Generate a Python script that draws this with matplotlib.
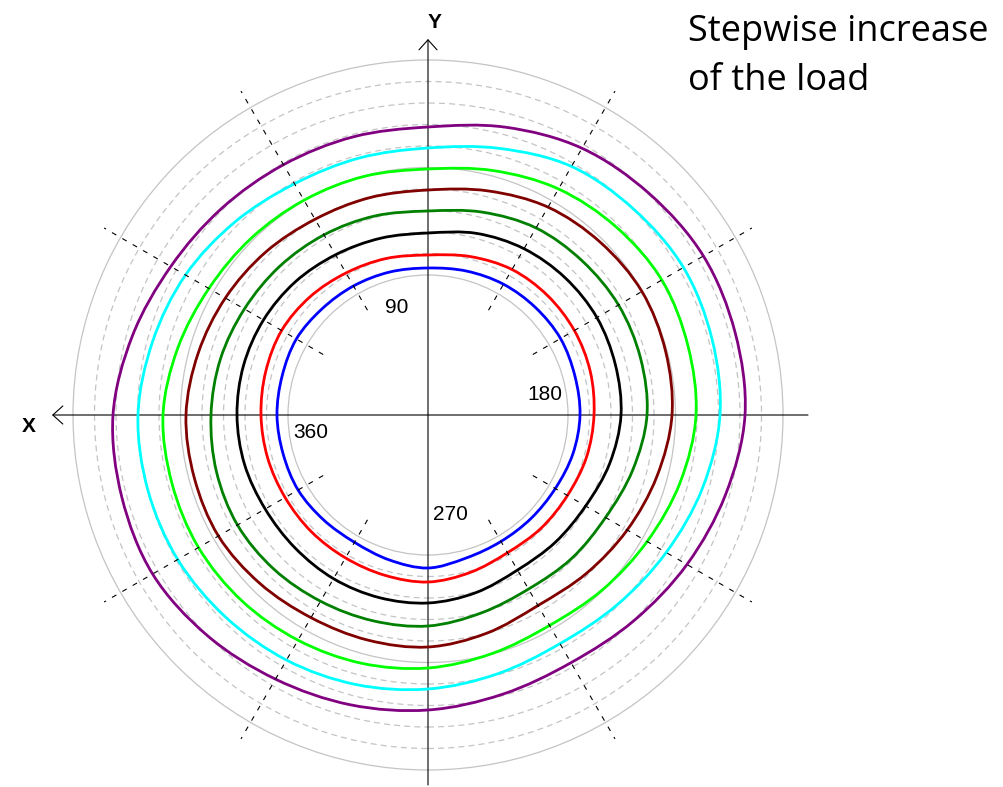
# -*- coding: utf-8 -*-
"""
Polar trace plot of the load steps: one closed trace per load level,
drawn around the X/Y cross with a polar grid of rings and spokes.
"""

# %% Import packages

import numpy as np
import matplotlib.pyplot as plt
from matplotlib.patches import Circle, PathPatch
from matplotlib.path import Path

# %% Data

# Angles of the radius readings (deg, counter-clockwise from the right)
angles = [0, 15, 30, 45, 60, 75, 90, 105, 120, 135, 150, 165,
          180, 195, 210, 225, 240, 255, 270, 285, 300, 315, 330, 345]

# Radius of each load-step trace at those angles
rBlue = [152, 152, 153, 152, 151, 149, 147, 148, 149, 150, 152, 151,
         151, 150, 150, 148, 147, 150, 153, 148, 146, 146, 147, 150]
rRed = [166, 168, 169, 169, 168, 164, 160, 162, 164, 167, 169, 168,
        167, 166, 165, 165, 165, 166, 167, 163, 159, 160, 161, 164]
rBlack = [193, 194, 195, 194, 192, 188, 182, 183, 185, 188, 190, 191,
          191, 190, 188, 188, 189, 189, 188, 184, 179, 180, 182, 188]
rDarkGreen = [219, 220, 220, 218, 216, 210, 204, 206, 208, 210, 212, 215,
              217, 219, 220, 218, 215, 213, 211, 205, 201, 203, 205, 212]
rBrown = [244, 246, 247, 244, 240, 232, 225, 225, 226, 230, 234, 238,
          242, 242, 242, 238, 234, 233, 232, 226, 220, 224, 230, 237]
rGreen = [268, 269, 270, 266, 261, 253, 246, 247, 248, 250, 253, 259,
          265, 265, 265, 263, 260, 257, 253, 247, 243, 247, 253, 261]
rCyan = [292, 294, 295, 291, 287, 276, 267, 266, 267, 273, 280, 285,
         290, 290, 289, 286, 283, 279, 274, 268, 264, 268, 275, 284]
rPurple = [317, 318, 318, 313, 308, 298, 288, 288, 289, 292, 297, 306,
           315, 317, 318, 312, 305, 300, 295, 289, 286, 291, 299, 308]

traces = [rBlue, rRed, rBlack, rDarkGreen, rBrown, rGreen, rCyan, rPurple]
traceColours = ['#0000ff', '#ff0000', '#000000', '#008000',
                '#800000', '#00ff00', '#00ffff', '#800080']

# Polar grid: rings and spoke directions
ringRadii = [140, 161.5, 183, 204.5, 226, 247.5, 269, 290.5, 312, 333.5, 355]
solidRings = [140, 247.5, 355]
spokeAngles = [30, 60, 120, 150, 210, 240, 300, 330]

# Angle labels (text, x, y)
angleLabels = [('90', -31, 107), ('180', 117, 20), ('270', 22, -100), ('360', -117, -18)]

# %% Define functions

#Closed smooth path through the trace points (Catmull-Rom as cubic Beziers)
def closedTracePath(xs, ys):
    pts = np.column_stack([xs, ys])
    n = len(pts)
    verts = [pts[0]]
    codes = [Path.MOVETO]
    for i in range(n):
        p0, p1, p2, p3 = pts[i - 1], pts[i], pts[(i + 1) % n], pts[(i + 2) % n]
        verts += [p1 + (p2 - p0) / 6, p2 - (p3 - p1) / 6, p2]
        codes += [Path.CURVE4] * 3
    return Path(verts, codes)

# %% Figure set-up

plt.rcParams['lines.scale_dashes'] = False

W, H = 1004, 787
cx, cy = 428, 372        # centre of the cross, pixels from bottom-left

fig = plt.figure(figsize=(W / 100, H / 100), dpi=100)
ax = fig.add_axes([0, 0, 1, 1])
ax.set_xlim(-cx, W - cx)
ax.set_ylim(-cy, H - cy)
ax.set_aspect('equal')
ax.axis('off')

# %% Polar grid

for r in ringRadii:
    if r in solidRings:
        ax.add_patch(Circle((0, 0), r, fill=False, ec='#c4c4c4', lw=0.9, zorder=1))
    else:
        ax.add_patch(Circle((0, 0), r, fill=False, ec='#c4c4c4', lw=0.9,
                            ls=(0, (4.3, 3.0)), zorder=1))

for a in spokeAngles:
    t = np.deg2rad(a)
    ax.plot([121 * np.cos(t), 374 * np.cos(t)], [121 * np.sin(t), 374 * np.sin(t)],
            color='black', lw=0.8, ls=(0, (3.6, 5.0)), zorder=4)

# %% Axes cross with arrows

arrowStyle = dict(arrowstyle='->,head_length=0.72,head_width=0.65', lw=0.8,
                  color='black', shrinkA=0, shrinkB=0)
ax.annotate('', xy=(-376, 0), xytext=(380, 0), arrowprops=arrowStyle, zorder=3)
ax.annotate('', xy=(0, 376), xytext=(0, -370), arrowprops=arrowStyle, zorder=3)

ax.text(-399, -12, 'X', fontsize=15, fontweight='bold', family='Liberation Sans',
        ha='center', va='center')
ax.text(7, 393, 'Y', fontsize=15, fontweight='bold', family='Liberation Sans',
        ha='center', va='center')

for label, lx, ly in angleLabels:
    ax.text(lx, ly, label, fontsize=15, family='Liberation Sans',
            ha='center', va='center', zorder=5)

# %% Load-step traces

th = np.deg2rad(angles)
for r, col in zip(traces, traceColours):
    rr = np.array(r, dtype=float)
    ax.add_patch(PathPatch(closedTracePath(rr * np.cos(th), rr * np.sin(th)),
                           fill=False, ec=col, lw=2.0, zorder=3))

# %% Annotation

ax.text(260, 374, 'Stepwise increase', fontsize=26, family='Open Sans',
        ha='left', va='baseline')
ax.text(260, 325, 'of the load', fontsize=26, family='Open Sans',
        ha='left', va='baseline')

plt.savefig('out.png', dpi=100)
plt.close()
